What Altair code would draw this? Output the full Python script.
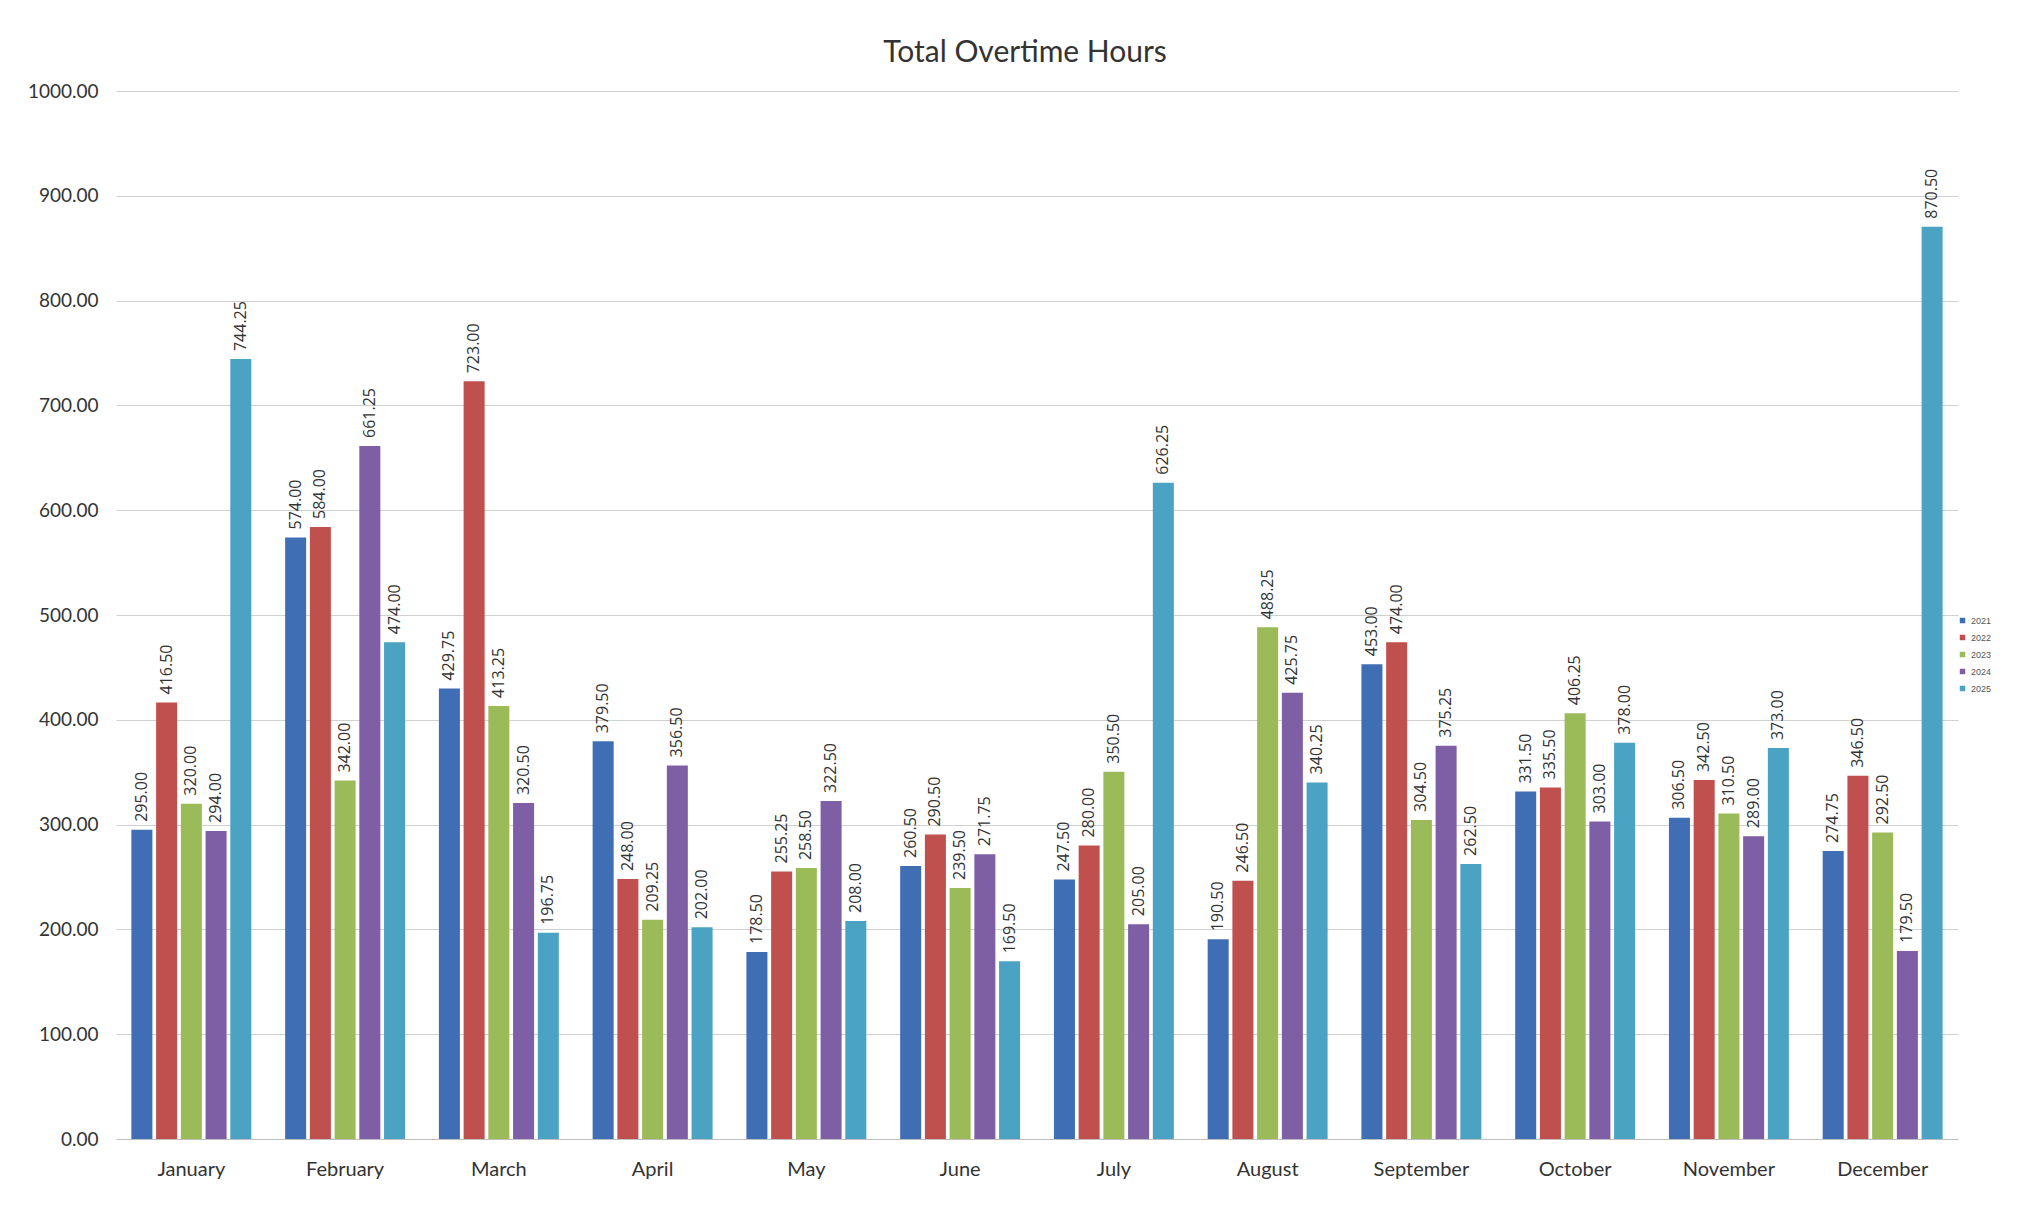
import altair as alt
import pandas as pd

months = ["January", "February", "March", "April", "May", "June",
          "July", "August", "September", "October", "November", "December"]
years = ["2021", "2022", "2023", "2024", "2025"]
colors = ["#3F6EB5", "#C0504D", "#9BBB59", "#7E5FA6", "#4BA3C3"]

v2021 = [295.00, 574.00, 429.75, 379.50, 178.50, 260.50, 247.50, 190.50, 453.00, 331.50, 306.50, 274.75]
v2022 = [416.50, 584.00, 723.00, 248.00, 255.25, 290.50, 280.00, 246.50, 474.00, 335.50, 342.50, 346.50]
v2023 = [320.00, 342.00, 413.25, 209.25, 258.50, 239.50, 350.50, 488.25, 304.50, 406.25, 310.50, 292.50]
v2024 = [294.00, 661.25, 320.50, 356.50, 322.50, 271.75, 205.00, 425.75, 375.25, 303.00, 289.00, 179.50]
v2025 = [744.25, 474.00, 196.75, 202.00, 208.00, 169.50, 626.25, 340.25, 262.50, 378.00, 373.00, 870.50]

series = [v2021, v2022, v2023, v2024, v2025]
rows = []
for y, vals in zip(years, series):
    for m, v in zip(months, vals):
        rows.append({"Month": m, "Year": y, "Hours": v})
df = pd.DataFrame(rows)

x = alt.X("Month:N", sort=months, title=None,
          scale=alt.Scale(paddingInner=0.22, paddingOuter=0.1),
          axis=alt.Axis(labelAngle=0, ticks=False, domainColor="#BFBFBF",
                        labelFontSize=20, labelColor="#333333", labelPadding=20,
                        labelFont="Lato"))
xo = alt.XOffset("Year:N", sort=years, scale=alt.Scale(paddingInner=0.15))
y = alt.Y("Hours:Q", title=None,
          scale=alt.Scale(domain=[0, 1000], nice=False),
          axis=alt.Axis(values=[0, 100, 200, 300, 400, 500, 600, 700, 800, 900, 1000],
                        format=".2f", domain=False, ticks=False, gridColor="#D0D0D0",
                        labelFontSize=19, labelColor="#333333", labelPadding=18,
                        labelFont="Lato"))

bars = alt.Chart(df).mark_bar().encode(
    x=x, xOffset=xo, y=y,
    color=alt.Color("Year:N", sort=years,
                    scale=alt.Scale(domain=years, range=colors),
                    legend=alt.Legend(title=None, orient="none", legendX=1842, legendY=525,
                                      symbolType="square", symbolSize=30,
                                      labelFontSize=9, labelColor="#555555",
                                      rowPadding=7)),
)

labels = alt.Chart(df).mark_text(angle=270, align="left", baseline="middle",
                                 dx=8, fontSize=16, color="#333333", font="Open Sans").encode(
    x=x, xOffset=xo, y=y,
    text=alt.Text("Hours:Q", format=".2f"),
)

chart = (bars + labels).properties(
    width=1842, height=1048,
    title=alt.TitleParams("Total Overtime Hours", fontSize=30, font="Lato",
                          fontWeight="normal", color="#333333", offset=14, dx=-12),
    autosize=alt.AutoSizeParams(type="none"),
    padding={"left": 108, "top": 83, "right": 61, "bottom": 61},
    background="white",
).configure_view(stroke=None)

chart.save("out.html", embed_options={"renderer": "svg", "actions": False})
